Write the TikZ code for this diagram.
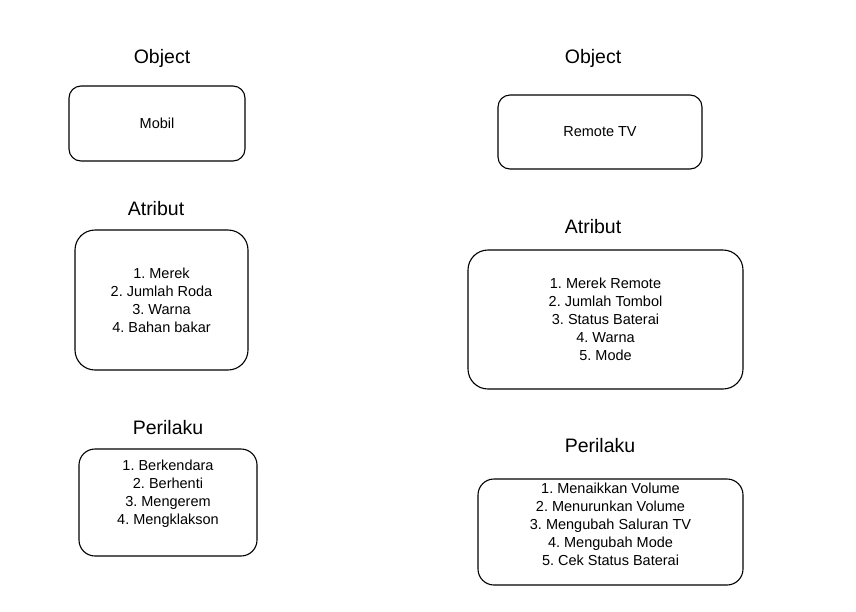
\documentclass[tikz,border=0pt]{standalone}
\usepackage{fontspec}
\setmainfont{Liberation Sans}
\usetikzlibrary{positioning}
\frenchspacing

\begin{document}
\begin{tikzpicture}[x=1pt, y=-1pt,
    kotak/.style={rectangle, draw=black, line width=1.1pt, rounded corners=#1, inner sep=0pt},
    kotak/.default=12pt,
    judul/.style={font=\fontsize{19.5}{23}\selectfont},
    isi/.style={align=center, font=\fontsize{14.5}{18}\selectfont}]

    \useasboundingbox (0,0) rectangle (856,611);

    % Nodes
    \node[judul] (objekA) at (162,58.5) {Object};
    \node[kotak, minimum width=176pt, minimum height=75pt, isi] (mobil) at (157,123.5) {Mobil};
    \node[judul] (atributA) at (156,208.5) {Atribut};
    \node[kotak=20pt, minimum width=173pt, minimum height=140pt, isi] (atributMobil) at (161.5,300)
        {1. Merek\\2. Jumlah Roda\\3. Warna\\4. Bahan bakar};
    \node[judul] (perilakuA) at (168,427.5) {Perilaku};
    \node[kotak=16pt, minimum width=178pt, minimum height=107pt] (perilakuMobil) at (168,502.5) {};
    \node[isi] (listMobil) at ([yshift=9pt]perilakuMobil.center)
        {1. Berkendara\\2. Berhenti\\3. Mengerem\\4. Mengklakson};

    \node[judul] (objekB) at (593,58.5) {Object};
    \node[kotak, minimum width=204pt, minimum height=74pt, isi] (remote) at (600,132) {Remote TV};
    \node[judul] (atributB) at (593,226.5) {Atribut};
    \node[kotak=20pt, minimum width=275pt, minimum height=139pt, isi] (atributRemote) at (605.5,319.5)
        {1. Merek Remote\\2. Jumlah Tombol\\3. Status Baterai\\4. Warna\\5. Mode};
    \node[judul] (perilakuB) at (600,445.5) {Perilaku};
    \node[kotak=16pt, minimum width=265pt, minimum height=106pt] (perilakuRemote) at (610.5,532) {};
    \node[isi] (listRemote) at ([yshift=8pt]perilakuRemote.center)
        {1. Menaikkan Volume\\2. Menurunkan Volume\\3. Mengubah Saluran TV\\4. Mengubah Mode\\5. Cek Status Baterai};

\end{tikzpicture}
\end{document}
